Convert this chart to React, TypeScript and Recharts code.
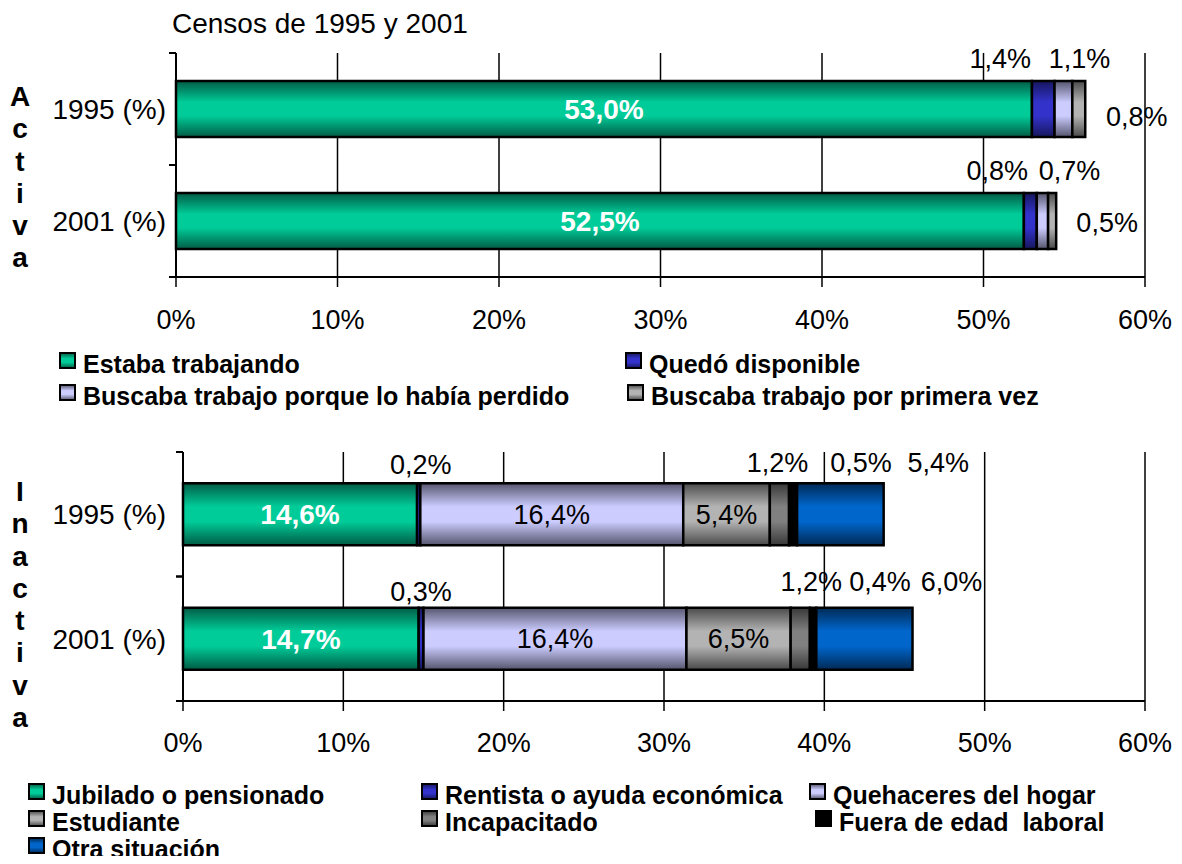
import React from 'react';
import { BarChart, Bar, XAxis, YAxis, CartesianGrid, LabelList } from 'recharts';

// categories and axis ticks
const years = ['1995 (%)', '2001 (%)'];
const percentTicks = [0, 10, 20, 30, 40, 50, 60];

// Población activa (%)
const estabaTrabajando = [53.0, 52.5];
const quedoDisponible = [1.4, 0.8];
const buscabaPerdido = [1.1, 0.7];
const buscabaPrimera = [0.8, 0.5];

// Población inactiva (%)
const jubilado = [14.6, 14.7];
const rentista = [0.2, 0.3];
const quehaceres = [16.4, 16.4];
const estudiante = [5.4, 6.5];
const incapacitado = [1.2, 1.2];
const fueraDeEdad = [0.5, 0.4];
const otraSituacion = [5.4, 6.0];

const FONT = '"Liberation Sans", Arial, sans-serif';

const gradients = [
  { id: 'gVerde', light: '#00CC99', dark: '#005C45' },
  { id: 'gAzul', light: '#3333CC', dark: '#16165E' },
  { id: 'gLila', light: '#CCCCFF', dark: '#55556E' },
  { id: 'gGrisClaro', light: '#B3B3B3', dark: '#4A4A4A' },
  { id: 'gGrisOscuro', light: '#808080', dark: '#383838' },
  { id: 'gNegro', light: '#000000', dark: '#000000' },
  { id: 'gAzulOtra', light: '#0066CC', dark: '#002A55' },
];

type LabelPlace =
  | { inside: true; color: string; bold: boolean }
  | { offsets: [number, number][] };

type Serie = { key: string; name: string; grad: string; values: number[]; label: LabelPlace };

const activaSeries: Serie[] = [
  { key: 'trabajando', name: 'Estaba trabajando', grad: 'gVerde', values: estabaTrabajando, label: { inside: true, color: '#fff', bold: true } },
  { key: 'disponible', name: 'Quedó disponible', grad: 'gAzul', values: quedoDisponible, label: { offsets: [[-43, -51], [-33, -51]] } },
  { key: 'perdido', name: 'Buscaba trabajo porque lo había perdido', grad: 'gLila', values: buscabaPerdido, label: { offsets: [[16, -51], [27, -51]] } },
  { key: 'primera', name: 'Buscaba trabajo por primera vez', grad: 'gGrisClaro', values: buscabaPrimera, label: { offsets: [[58, 7], [55, 1]] } },
];

const inactivaSeries: Serie[] = [
  { key: 'jubilado', name: 'Jubilado o pensionado', grad: 'gVerde', values: jubilado, label: { inside: true, color: '#fff', bold: true } },
  { key: 'rentista', name: 'Rentista o ayuda económica', grad: 'gAzul', values: rentista, label: { offsets: [[2, -50], [0, -47]] } },
  { key: 'hogar', name: 'Quehaceres del hogar', grad: 'gLila', values: quehaceres, label: { inside: true, color: '#000', bold: false } },
  { key: 'estudiante', name: 'Estudiante', grad: 'gGrisClaro', values: estudiante, label: { inside: true, color: '#000', bold: false } },
  { key: 'incapacitado', name: 'Incapacitado', grad: 'gGrisOscuro', values: incapacitado, label: { offsets: [[-2, -52], [11, -57]] } },
  { key: 'fuera', name: 'Fuera de edad  laboral', grad: 'gNegro', values: fueraDeEdad, label: { offsets: [[68, -52], [67, -57]] } },
  { key: 'otra', name: 'Otra situación', grad: 'gAzulOtra', values: otraSituacion, label: { offsets: [[98, -52], [87, -57]] } },
];

const buildData = (series: Serie[]) =>
  years.map((year, i) => {
    const row: Record<string, string | number> = { year };
    series.forEach((s) => (row[s.key] = s.values[i]));
    return row;
  });

const activaData = buildData(activaSeries);
const inactivaData = buildData(inactivaSeries);

const fmt = (v: number) => Number(v).toFixed(1).replace('.', ',') + '%';

const segmentLabel = (place: LabelPlace) => (props: any) => {
  const vb = props.viewBox ?? props;
  const x = Number(vb.x);
  const y = Number(vb.y);
  const w = Number(vb.width);
  const h = Number(vb.height);
  const i = props.index ?? 0;
  const cx = x + w / 2;
  const cy = y + h / 2;
  if ('inside' in place) {
    return (
      <text x={cx} y={cy} dy="0.36em" textAnchor="middle" fill={place.color}
        fontSize={place.bold ? 28 : 27} fontWeight={place.bold ? 'bold' : 'normal'}>
        {fmt(props.value)}
      </text>
    );
  }
  const [dx, dy] = place.offsets[i] ?? [0, -50];
  return (
    <text x={cx + dx} y={cy + dy} dy="0.36em" textAnchor="middle" fill="#000" fontSize={27}>
      {fmt(props.value)}
    </text>
  );
};

const PercentTick = ({ x, y, payload }: any) => (
  <text x={x} y={y} dy="0.71em" textAnchor="middle" fontSize={27} fill="#000">
    {payload.value}%
  </text>
);

const CategoryTick = ({ x, y, payload, gap, band }: any) => {
  const axisX = x + gap;
  return (
    <g>
      <line x1={axisX - 7} x2={axisX} y1={y - band / 2} y2={y - band / 2} stroke="#000" strokeWidth={2} />
      <line x1={axisX - 7} x2={axisX} y1={y + band / 2} y2={y + band / 2} stroke="#000" strokeWidth={2} />
      <text x={x} y={y} dy="0.36em" textAnchor="end" fontSize={28} fill="#000">
        {payload.value}
      </text>
    </g>
  );
};

type PanelProps = {
  data: Record<string, string | number>[];
  series: Serie[];
  top: number;
  height: number;
  marginTop: number;
  axisWidth: number;
  xAxisHeight: number;
  labelGap: number;
  xTickMargin: number;
};

const Panel = ({ data, series, top, height, marginTop, axisWidth, xAxisHeight, labelGap, xTickMargin }: PanelProps) => {
  const width = 1182;
  const marginRight = 37;
  const plotHeight = height - marginTop - xAxisHeight;
  const band = plotHeight / years.length;
  return (
    <div style={{ position: 'absolute', left: 0, top }}>
      <BarChart
        width={width}
        height={height}
        data={data}
        layout="vertical"
        barCategoryGap="25%"
        margin={{ top: marginTop, right: marginRight, bottom: 0, left: 0 }}
      >
        <CartesianGrid horizontal={false} stroke="#000" strokeWidth={1.5} />
        <XAxis
          type="number"
          domain={[0, 60]}
          ticks={percentTicks}
          interval={0}
          height={xAxisHeight}
          axisLine={{ stroke: '#000', strokeWidth: 2 }}
          tickLine={{ stroke: '#000', strokeWidth: 1.5 }}
          tickSize={10}
          tickMargin={xTickMargin}
          tick={<PercentTick />}
        />
        <YAxis
          type="category"
          dataKey="year"
          width={axisWidth}
          axisLine={{ stroke: '#000', strokeWidth: 2 }}
          tickLine={false}
          tickSize={6}
          tickMargin={labelGap - 6}
          tick={(p: any) => <CategoryTick {...p} gap={labelGap} band={band} />}
        />
        {series.map((s) => (
          <Bar
            key={s.key}
            dataKey={s.key}
            name={s.name}
            stackId="a"
            fill={`url(#${s.grad})`}
            stroke="#000"
            strokeWidth={2.5}
            isAnimationActive={false}
          >
            <LabelList dataKey={s.key} content={segmentLabel(s.label)} />
          </Bar>
        ))}
      </BarChart>
    </div>
  );
};

const LegendIcon = ({ grad }: { grad: string }) => (
  <svg width={17} height={17} style={{ position: 'absolute', left: 0, top: 0 }}>
    <rect x={1} y={1} width={15} height={15} fill={`url(#${grad})`} stroke="#000" strokeWidth={2} />
  </svg>
);

type LegendPos = { left: number; baseline: number };

const LegendBlock = ({ series, positions }: { series: Serie[]; positions: LegendPos[] }) => (
  <>
    {series.map((s, i) => {
      const p = positions[i];
      return (
        <div key={s.key} style={{ position: 'absolute', left: p.left, top: p.baseline - 21, height: 25 }}>
          <LegendIcon grad={s.grad} />
          <span style={{ position: 'absolute', left: 24, top: 0, fontSize: 25, lineHeight: '25px', fontWeight: 'bold', whiteSpace: 'pre', color: '#000' }}>
            {s.name}
          </span>
        </div>
      );
    })}
  </>
);

const VerticalWord = ({ word, top }: { word: string; top: number }) => (
  <div style={{ position: 'absolute', left: 0, top, width: 40, textAlign: 'center', fontSize: 28, fontWeight: 'bold', lineHeight: '32.3px' }}>
    {word.split('').map((c, i) => (
      <div key={i}>{c}</div>
    ))}
  </div>
);

export default function App() {
  return (
    <div style={{ position: 'relative', width: 1182, height: 864, margin: -8, background: '#fff', fontFamily: FONT, color: '#000', overflow: 'hidden' }}>
      <svg width={0} height={0} style={{ position: 'absolute' }}>
        <defs>
          {gradients.map((g) => (
            <linearGradient key={g.id} id={g.id} x1="0" y1="0" x2="0" y2="1">
              <stop offset="0%" stopColor={g.dark} />
              <stop offset="38%" stopColor={g.light} />
              <stop offset="62%" stopColor={g.light} />
              <stop offset="100%" stopColor={g.dark} />
            </linearGradient>
          ))}
        </defs>
      </svg>

      <div style={{ position: 'absolute', left: 172, top: 10, fontSize: 28, lineHeight: '28px', whiteSpace: 'pre' }}>
        Censos de 1995 y 2001
      </div>

      <VerticalWord word="Activa" top={81} />
      <VerticalWord word="Inactiva" top={476} />

      <Panel data={activaData} series={activaSeries} top={0} height={345} marginTop={53}
        axisWidth={176} xAxisHeight={68} labelGap={10} xTickMargin={23} />

      <LegendBlock
        series={activaSeries}
        positions={[
          { left: 59, baseline: 373 },
          { left: 625, baseline: 373 },
          { left: 59, baseline: 405 },
          { left: 627, baseline: 405 },
        ]}
      />

      <Panel data={inactivaData} series={inactivaSeries} top={420} height={340} marginTop={32}
        axisWidth={183} xAxisHeight={59} labelGap={17} xTickMargin={22} />

      <LegendBlock
        series={inactivaSeries}
        positions={[
          { left: 28, baseline: 804 },
          { left: 421, baseline: 804 },
          { left: 809, baseline: 804 },
          { left: 28, baseline: 831 },
          { left: 421, baseline: 831 },
          { left: 815, baseline: 831 },
          { left: 28, baseline: 858 },
        ]}
      />
    </div>
  );
}
